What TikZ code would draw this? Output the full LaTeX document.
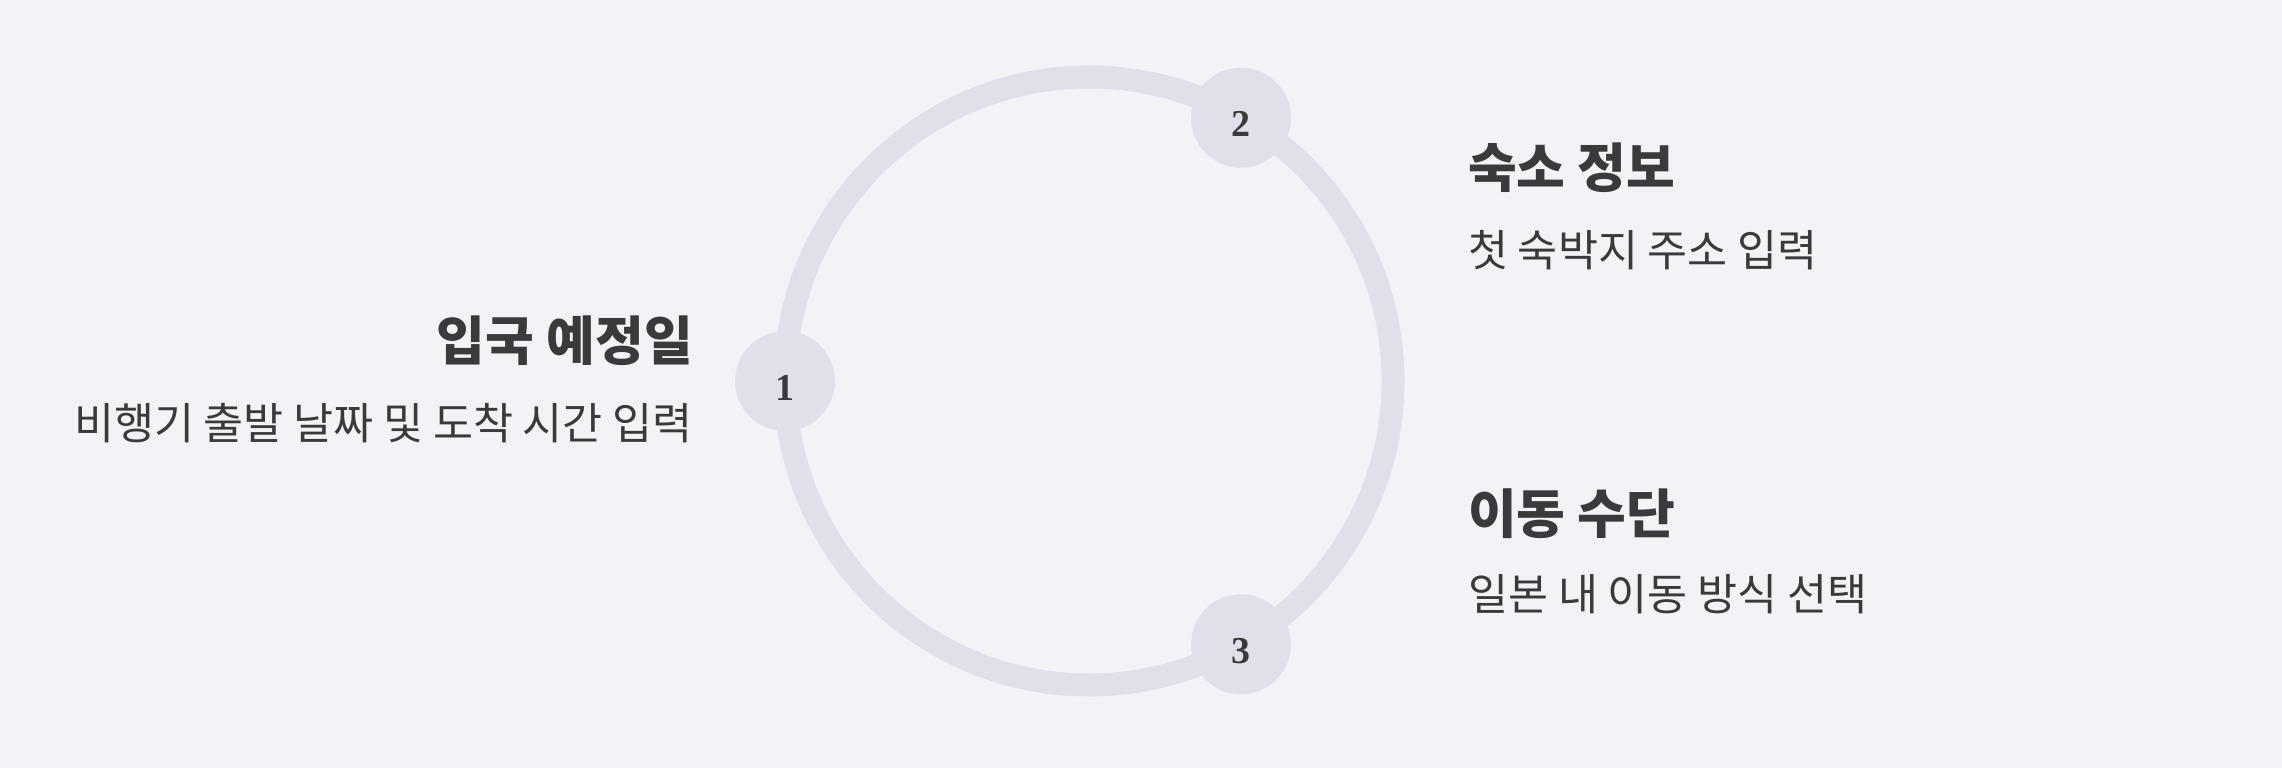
\documentclass[tikz,border=0pt]{standalone}
\usepackage{fontspec}
\usetikzlibrary{positioning}
\newfontfamily\krfont{Noto Sans CJK KR}
\newfontfamily\numfont{Liberation Serif}
\definecolor{bgcol}{HTML}{F3F3F7}
\definecolor{ringcol}{HTML}{E0E0EB}
\definecolor{txtcol}{HTML}{3A3A3A}

\begin{document}
\begin{tikzpicture}[x=1pt, y=-1pt,
    stepnode/.style={circle, fill=ringcol, minimum size=100pt, inner sep=0pt, text=txtcol,
      text height=38pt, text depth=0pt, font=\numfont\bfseries\fontsize{38}{40}\selectfont},
    title/.style={inner sep=0pt, text=txtcol, font=\krfont\bfseries\fontsize{53}{60}\selectfont},
    desc/.style={inner sep=0pt, text=txtcol, font=\krfont\fontsize{43.5}{50}\selectfont}]
      \fill[bgcol] (0,0) rectangle (2282,768);
      \useasboundingbox (0,0) rectangle (2282,768);
      \coordinate (c) at (1089,381);
      \draw[ringcol, line width=23pt] (c) circle[radius=304pt];
      \node[stepnode] (n1) at ([shift={(180:304pt)}]c) {1};
      \node[stepnode] (n2) at ([shift={(60:304pt)}]c) {2};
      \node[stepnode] (n3) at ([shift={(-60:304pt)}]c) {3};
      \node[title, anchor=base east] (t1) at (693,360) {입국 예정일};
      \node[desc, anchor=base east] (d1) at (693,439) {비행기 출발 날짜 및 도착 시간 입력};
      \node[title, anchor=base west] (t2) at (1468,187) {숙소 정보};
      \node[desc, anchor=base west] (d2) at (1468,266) {첫 숙박지 주소 입력};
      \node[title, anchor=base west] (t3) at (1468,533) {이동 수단};
      \node[desc, anchor=base west] (d3) at (1468,610) {일본 내 이동 방식 선택};
\end{tikzpicture}
\end{document}
